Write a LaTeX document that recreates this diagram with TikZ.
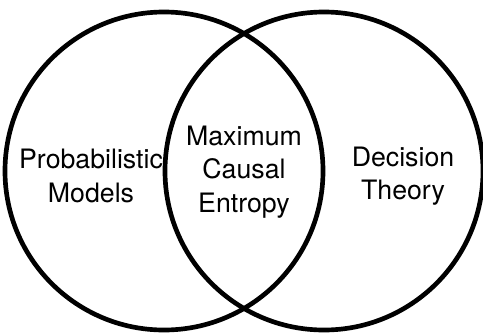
\documentclass[tikz,border=0pt]{standalone}
\usepackage{fontspec}
\setmainfont{TeX Gyre Heros}
\usetikzlibrary{positioning}

\begin{document}
\begin{tikzpicture}[
  x=0.03cm, y=-0.03cm,
  set/.style={draw, circle, line width=0.14cm, minimum size=9.54cm, inner sep=0pt},
  label/.style={align=center, inner sep=0pt, font=\fontsize{22.8pt}{28.6pt}\selectfont},
]
\useasboundingbox (0,0) rectangle (483,332);
% Sets
\node[set] (models) at (164,171) {};
\node[set] (decision) at (324,171) {};

% Labels
\node[label] (pm) at (91,176) {Probabilistic\\Models};
\node[label] (mce) at (244,172) {Maximum\\Causal\\Entropy};
\node[label] (dt) at (403,176) {Decision\\Theory};
\end{tikzpicture}
\end{document}
